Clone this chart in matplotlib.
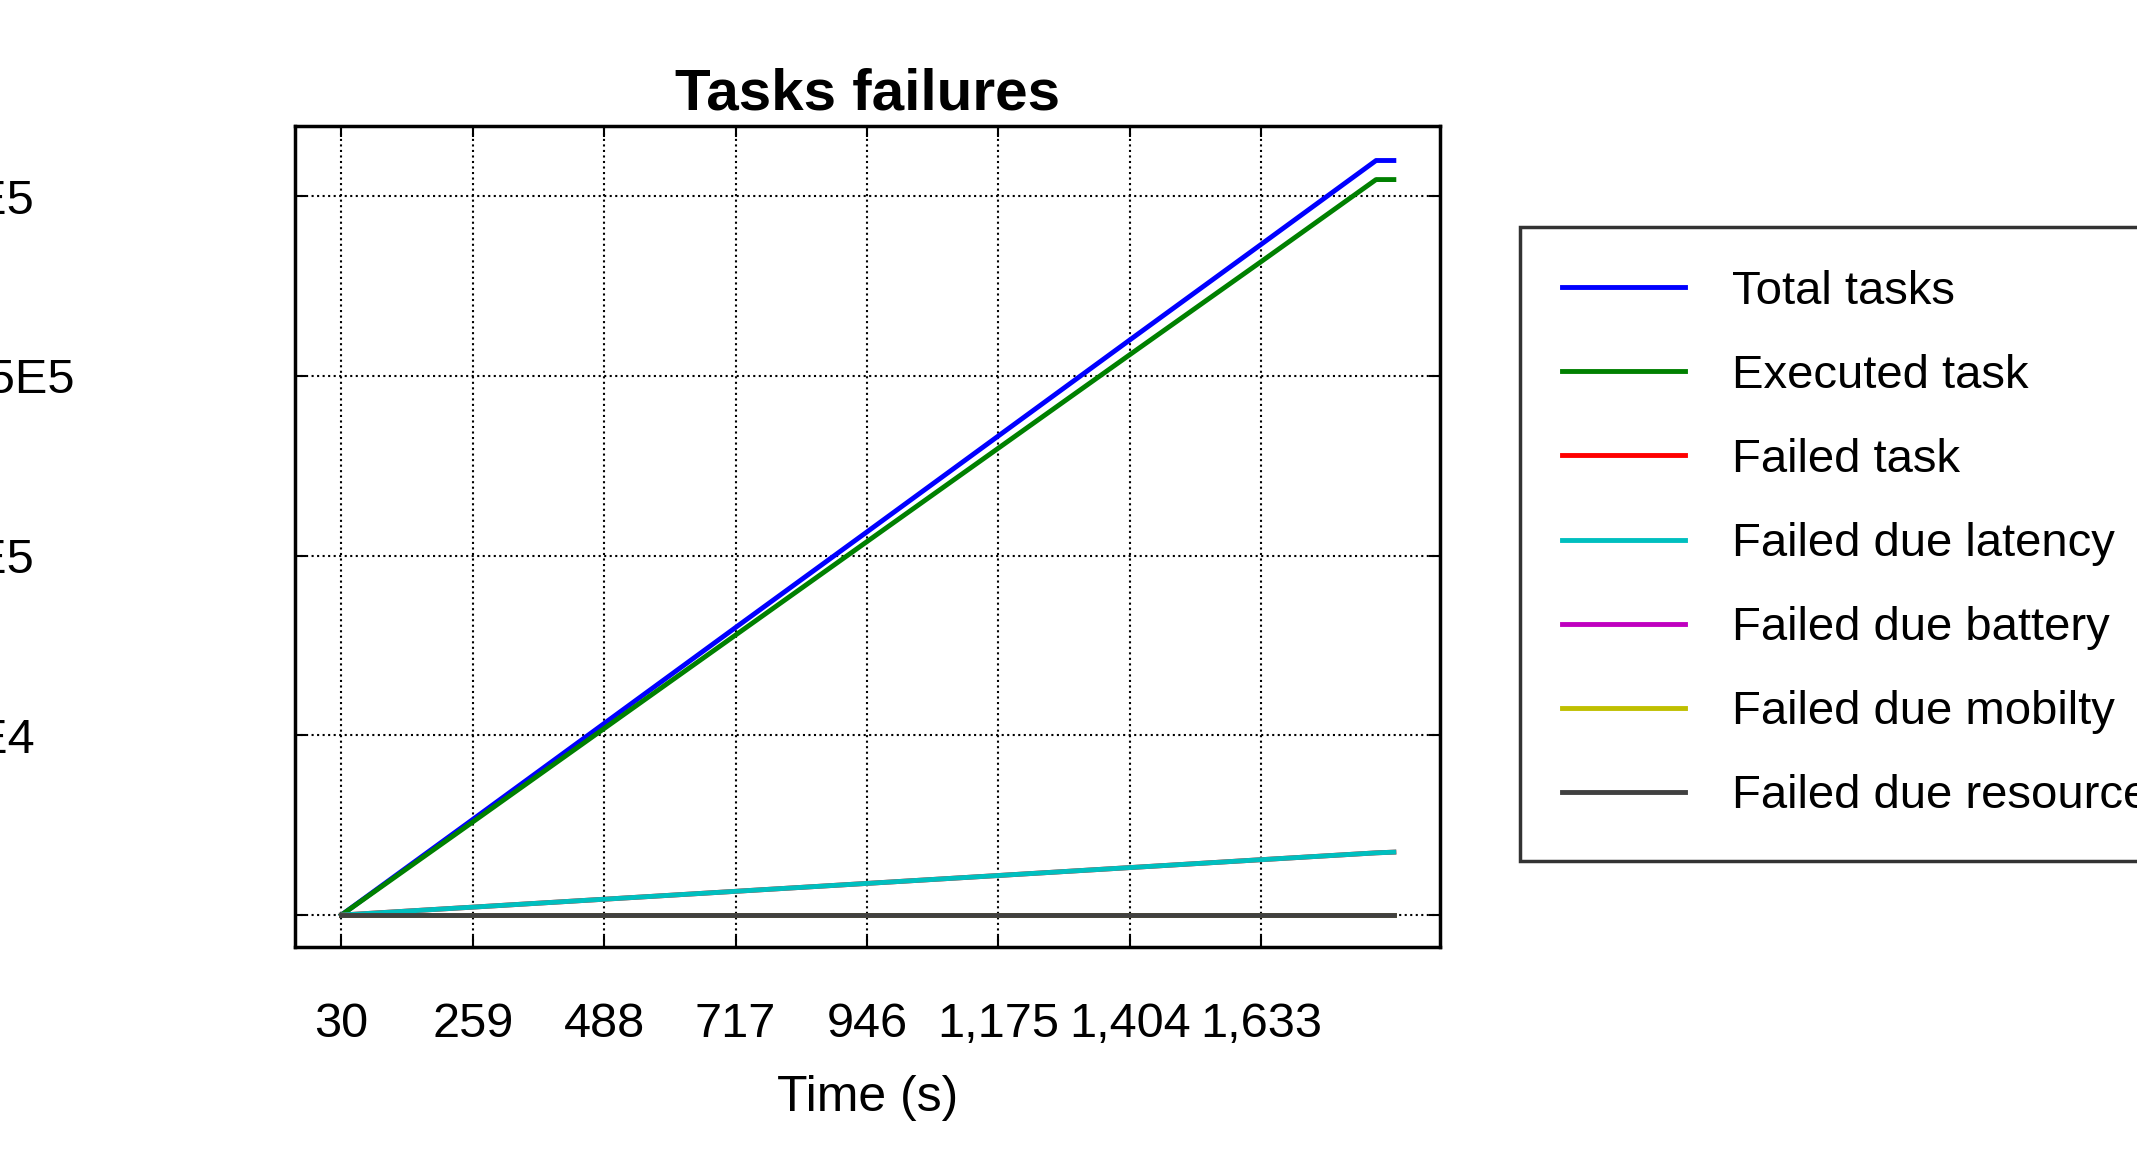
import matplotlib
matplotlib.use("Agg")
import matplotlib.pyplot as plt

plt.rcParams['font.family'] = ['Liberation Sans', 'DejaVu Sans']

time = [30, 259, 488, 717, 946, 1175, 1404, 1633, 1833, 1864]
total = [0, 26600, 53300, 80000, 106600, 133300, 160000, 186600, 209900, 209900]
executed = [0, 25900, 51900, 77900, 103900, 129900, 155900, 181800, 204600, 204600]
failed = [0, 2200, 4400, 6600, 8800, 11000, 13200, 15400, 17300, 17500]
failed_latency = failed
failed_battery = [0]*10
failed_mobility = [0]*10
failed_resource = [0]*10

xticks = [30, 259, 488, 717, 946, 1175, 1404, 1633]
yticks = [0, 50000, 100000, 150000, 200000]
ylabels = ['0', '5E4', '1E5', '1.5E5', '2E5']

fig = plt.figure(figsize=(21.37, 11.70), dpi=100)
ax = fig.add_axes([0.138, 0.191, 0.536, 0.701])
series = [("Total tasks", total, 'blue'), ("Executed task", executed, 'green'),
          ("Failed task", failed, 'red'), ("Failed due latency", failed_latency, 'c'),
          ("Failed due battery", failed_battery, 'm'), ("Failed due mobilty", failed_mobility, 'y'),
          ("Failed due resource", failed_resource, '#404040')]
for lab, ys, c in series:
    ax.plot(time, ys, color=c, lw=3.5, label=lab)
ax.set_xlim(-51, 1945)
ax.set_ylim(-8760, 219400)
ax.set_xticks(xticks)
ax.set_xticklabels([f"{v:,}" for v in xticks])
ax.set_yticks(yticks)
ax.set_yticklabels(ylabels)
ax.tick_params(labelsize=35, direction='in', length=8, width=1.5, top=True, right=True)
ax.tick_params(axis='x', pad=40)
ax.tick_params(axis='y', pad=40)
for t in ax.get_yticklabels():
    t.set_horizontalalignment('left')
ax.tick_params(axis='y', pad=250)
ax.grid(True, color='black', linestyle=':', lw=1.5)
for s in ax.spines.values():
    s.set_linewidth(2.5)
ax.set_title("Tasks failures", fontsize=42, fontweight='bold', pad=12)
ax.set_xlabel("Time (s)", fontsize=36, labelpad=20)
ax.set_ylabel("Tasks number", fontsize=36, labelpad=20)
leg = fig.legend(loc='center left', bbox_to_anchor=(0.700, 0.535), fontsize=34, frameon=True,
                 fancybox=False, edgecolor='black', handlelength=2.6, labelspacing=0.85,
                 borderpad=0.9, handletextpad=1.0)
leg.get_frame().set_linewidth(2.5)
fig.savefig("out.png", dpi=100, facecolor='white')
